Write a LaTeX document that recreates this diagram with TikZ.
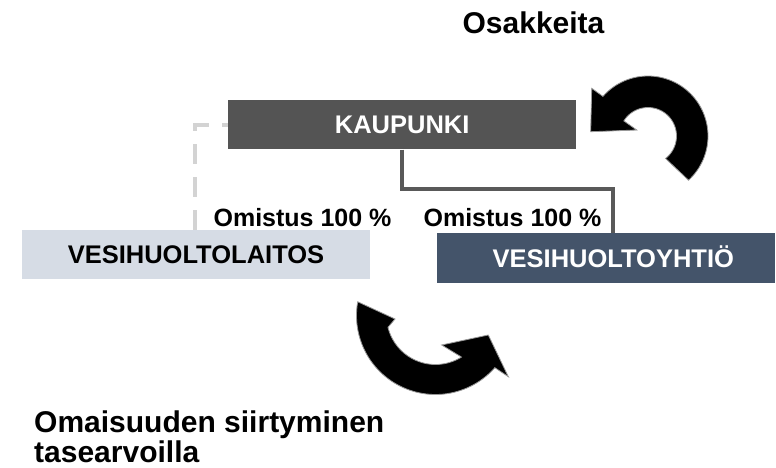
\documentclass[tikz,border=0pt]{standalone}
\usepackage{fontspec}
\setmainfont{Liberation Sans}
\usetikzlibrary{backgrounds}
\definecolor{kdark}{HTML}{545454}
\definecolor{lblue}{HTML}{D6DCE5}
\definecolor{dblue}{HTML}{44546A}
\definecolor{lineg}{HTML}{595959}
\definecolor{dashg}{HTML}{D3D3D3}
\begin{document}
\begin{tikzpicture}[x=1pt,y=-1pt,
  boxbase/.style={inner sep=0pt, text height=18.2pt, text depth=0pt,
    font=\fontsize{25.5}{30}\selectfont\bfseries},
  darkbox/.style={boxbase, fill=kdark, text=white},
  lightbox/.style={boxbase, fill=lblue, text=black},
  bluebox/.style={boxbase, fill=dblue, text=white},
  ownlabel/.style={inner sep=0pt, anchor=base, font=\fontsize{25}{30}\selectfont\bfseries},
  bigtext/.style={inner sep=0pt, font=\fontsize{30}{30}\selectfont\bfseries},
  dashconn/.style={draw=dashg, line width=3.5pt, dash pattern=on 20pt off 13pt},
  solidconn/.style={draw=lineg, line width=3.8pt, line join=miter},
  arrowshape/.style={fill=black, draw=black!40, line width=0.8pt, line join=miter}
]
\useasboundingbox (0,0) rectangle (776,468);

% boxes
\node[darkbox, minimum width=347.7pt, minimum height=49.3pt] (kaupunki) at (402.2,124.7) {KAUPUNKI};
\node[lightbox, minimum width=348pt, minimum height=49pt] (laitos) at (196,254.5) {VESIHUOLTOLAITOS};
\node[bluebox, minimum width=338.3pt, minimum height=49.4pt] (yhtio) at (605.8,258) {\hspace*{15pt}VESIHUOLTOYHTIÖ};

% connectors (behind the boxes)
\coordinate (dc) at (195,125);
\coordinate (sc) at (613,188.7);
\begin{scope}[on background layer]
\fill[white] (0,0) rectangle (776,468);
\draw[dashconn] (dc |- laitos.north) -- (dc) -- (dc -| kaupunki.west);
\draw[solidconn] (kaupunki.south) |- (sc) -- (sc |- yhtio.north);
\end{scope}

% labels
\node[ownlabel] (own1) at (302.5,226.5) {Omistus 100 \%};
\node[ownlabel] (own2) at (512.5,226.5) {Omistus 100 \%};
\node[bigtext, anchor=base] (osak) at (533.5,33.3) {Osakkeita};
\node[bigtext, anchor=base west] (oma1) at (34,432.7) {Omaisuuden siirtyminen};
\node[bigtext, anchor=base west] (oma2) at (34,462.7) {tasearvoilla};

% circular arrow, top right
\filldraw[arrowshape] plot[domain=47.5:-138.7, samples=60] ({648+60*cos(\x)},{136+60*sin(\x)})
  -- (591.7,88.3) -- (590.7,131.7) -- (636.7,130)
  -- plot[domain=-148:52, samples=60] ({648+28.5*cos(\x)},{136+28.5*sin(\x)}) -- cycle;

% circular arrow, bottom
\filldraw[arrowshape] plot[domain=190:41.3, samples=60] ({435.5+79*cos(\x)},{315.5+79*sin(\x)})
  -- (508.3,376.7) -- (488.3,335) -- (441.7,345)
  -- plot[domain=58:166, samples=60] ({435.5+49*cos(\x)},{315.5+49*sin(\x)})
  -- (395,319) -- cycle;
\end{tikzpicture}
\end{document}
